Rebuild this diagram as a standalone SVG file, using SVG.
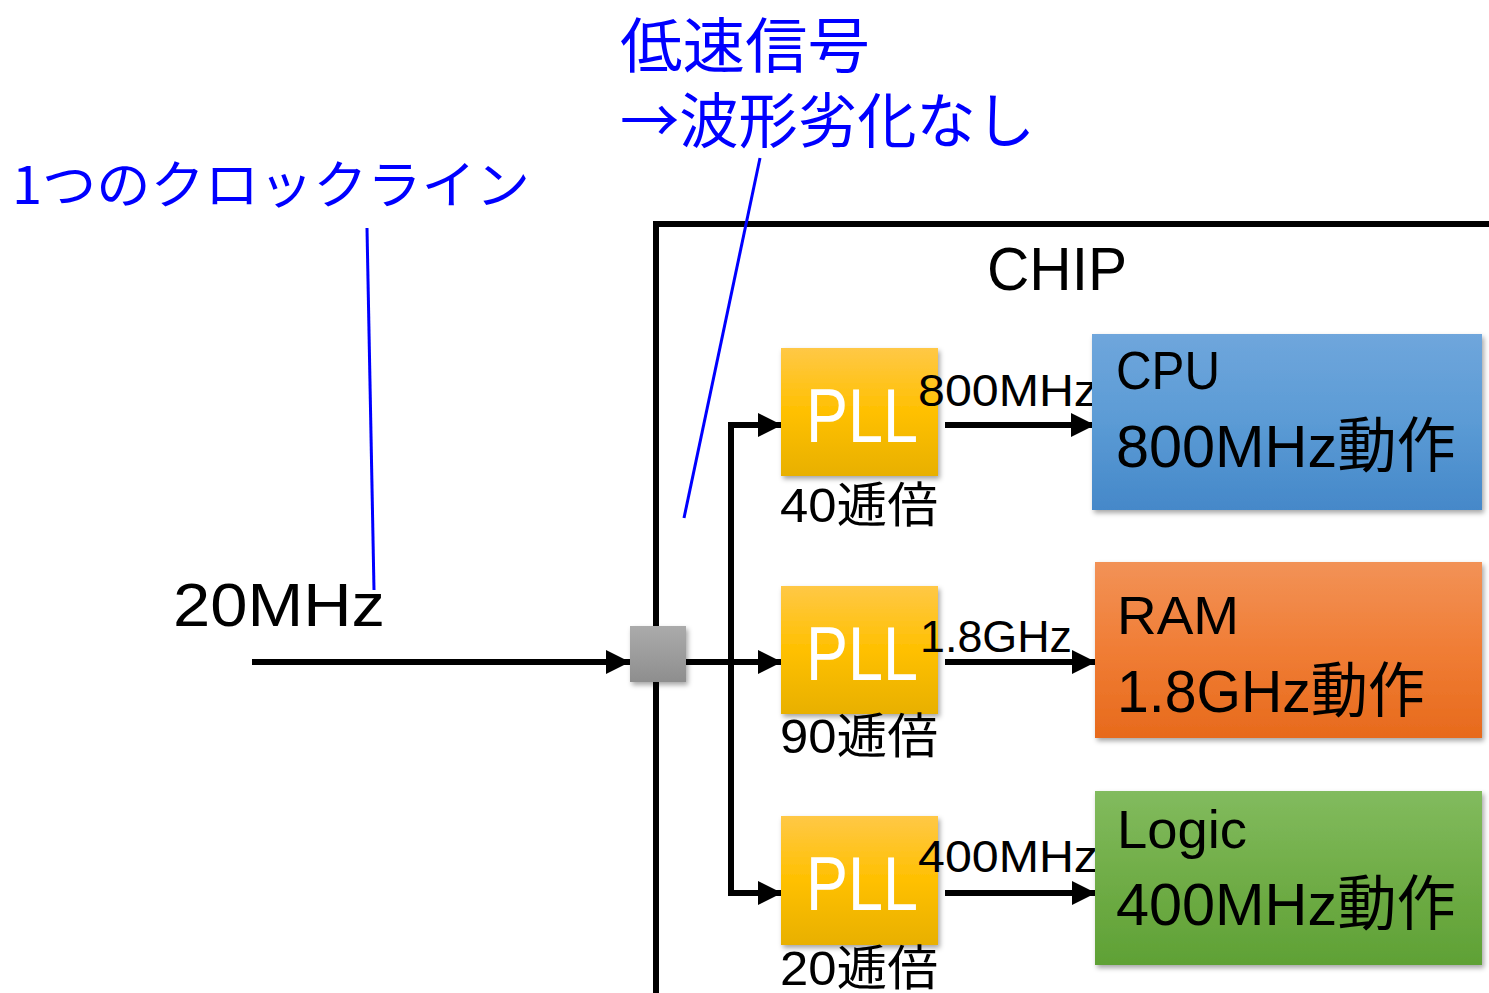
<svg xmlns="http://www.w3.org/2000/svg" width="1489" height="993" viewBox="0 0 1489 993">
<defs>
<style>
.lat{font-family:"Liberation Sans","Noto Sans CJK JP",sans-serif;fill:#000}
.blue{font-family:"Noto Sans CJK JP",sans-serif;fill:#0000ff}
.pll{font-family:"Liberation Sans",sans-serif;fill:#fff;font-size:76px}
.wire{stroke:#000;stroke-width:6;fill:none}
.note{stroke:#0000ff;stroke-width:3;fill:none}
</style>
<linearGradient id="gY" x1="0" y1="0" x2="0" y2="1"><stop offset="0" stop-color="#ffc846"/><stop offset="0.5" stop-color="#ffc000"/><stop offset="1" stop-color="#e8b000"/></linearGradient>
<linearGradient id="gG" x1="0" y1="0" x2="0" y2="1"><stop offset="0" stop-color="#ababab"/><stop offset="1" stop-color="#8e8e8e"/></linearGradient>
<linearGradient id="gB" x1="0" y1="0" x2="0" y2="1"><stop offset="0" stop-color="#6fa6dc"/><stop offset="0.5" stop-color="#5b9bd5"/><stop offset="1" stop-color="#4588c9"/></linearGradient>
<linearGradient id="gO" x1="0" y1="0" x2="0" y2="1"><stop offset="0" stop-color="#f29257"/><stop offset="0.5" stop-color="#f07d35"/><stop offset="1" stop-color="#e76a1c"/></linearGradient>
<linearGradient id="gL" x1="0" y1="0" x2="0" y2="1"><stop offset="0" stop-color="#82bb5e"/><stop offset="0.5" stop-color="#70ad47"/><stop offset="1" stop-color="#5fa135"/></linearGradient>
<filter id="sh" x="-10%" y="-10%" width="130%" height="130%"><feDropShadow dx="2" dy="3" stdDeviation="2.5" flood-color="#000" flood-opacity="0.35"/></filter>
<marker id="ah" markerUnits="userSpaceOnUse" markerWidth="26" markerHeight="26" refX="24" refY="13" orient="auto"><path d="M0,1 L24,13 L0,25 Z" fill="#000"/></marker>
</defs>

<g id="chip">
<path class="wire" d="M656,993 V224 H1489"/>
<text class="lat" x="987" y="290" font-size="62" textLength="140" lengthAdjust="spacingAndGlyphs">CHIP</text>
</g>

<g id="notes">
<text class="blue" x="12" y="204" font-size="52" textLength="518" lengthAdjust="spacingAndGlyphs">1つのクロックライン</text>
<text class="blue" x="620" y="68" font-size="60" textLength="250" lengthAdjust="spacingAndGlyphs">低速信号</text>
<text class="blue" x="620" y="143" font-size="60" textLength="415" lengthAdjust="spacingAndGlyphs">→波形劣化なし</text>
<line class="note" x1="367" y1="228" x2="374" y2="590"/>
<line class="note" x1="760" y1="158" x2="684" y2="518"/>
</g>

<g id="input">
<text class="lat" x="173" y="626" font-size="62" textLength="212" lengthAdjust="spacingAndGlyphs">20MHz</text>
</g>

<g id="connectors">
<line class="wire" x1="252" y1="662" x2="630" y2="662" marker-end="url(#ah)"/>
<line class="wire" x1="686" y1="662" x2="782" y2="662" marker-end="url(#ah)"/>
<path class="wire" d="M782,425 H731 V893 H782" marker-end="url(#ah)"/>
<path class="wire" d="M731,425 H782" marker-end="url(#ah)"/>
<line class="wire" x1="945" y1="425" x2="1095" y2="425" marker-end="url(#ah)"/>
<line class="wire" x1="945" y1="662" x2="1096" y2="662" marker-end="url(#ah)"/>
<line class="wire" x1="945" y1="893" x2="1096" y2="893" marker-end="url(#ah)"/>
</g>

<g id="splitter">
<rect x="630" y="626" width="56" height="56" fill="url(#gG)" filter="url(#sh)"/>
</g>

<g id="pll1">
<rect x="781" y="348" width="157" height="128" fill="url(#gY)" filter="url(#sh)"/>
<text class="pll" x="806" y="442" textLength="112" lengthAdjust="spacingAndGlyphs">PLL</text>
<text class="lat" x="780" y="522" font-size="48" textLength="158" lengthAdjust="spacingAndGlyphs">40逓倍</text>
<text class="lat" x="918" y="406" font-size="45" textLength="180" lengthAdjust="spacingAndGlyphs">800MHz</text>
</g>
<g id="pll2">
<rect x="781" y="586" width="157" height="128" fill="url(#gY)" filter="url(#sh)"/>
<text class="pll" x="806" y="680" textLength="112" lengthAdjust="spacingAndGlyphs">PLL</text>
<text class="lat" x="780" y="753" font-size="48" textLength="158" lengthAdjust="spacingAndGlyphs">90逓倍</text>
<text class="lat" x="920" y="652" font-size="45" textLength="152" lengthAdjust="spacingAndGlyphs">1.8GHz</text>
</g>
<g id="pll3">
<rect x="781" y="816" width="157" height="129" fill="url(#gY)" filter="url(#sh)"/>
<text class="pll" x="806" y="910" textLength="112" lengthAdjust="spacingAndGlyphs">PLL</text>
<text class="lat" x="780" y="985" font-size="48" textLength="158" lengthAdjust="spacingAndGlyphs">20逓倍</text>
<text class="lat" x="918" y="872" font-size="45" textLength="180" lengthAdjust="spacingAndGlyphs">400MHz</text>
</g>

<g id="cpu">
<rect x="1092" y="334" width="390" height="176" fill="url(#gB)" filter="url(#sh)"/>
<text class="lat" x="1116" y="389" font-size="53" textLength="104" lengthAdjust="spacingAndGlyphs">CPU</text>
<text class="lat" x="1116" y="467" font-size="60" textLength="340" lengthAdjust="spacingAndGlyphs">800MHz動作</text>
</g>
<g id="ram">
<rect x="1095" y="562" width="387" height="176" fill="url(#gO)" filter="url(#sh)"/>
<text class="lat" x="1117" y="634" font-size="53" textLength="122" lengthAdjust="spacingAndGlyphs">RAM</text>
<text class="lat" x="1117" y="712" font-size="60" textLength="308" lengthAdjust="spacingAndGlyphs">1.8GHz動作</text>
</g>
<g id="logic">
<rect x="1095" y="791" width="387" height="174" fill="url(#gL)" filter="url(#sh)"/>
<text class="lat" x="1117" y="848" font-size="53" textLength="130" lengthAdjust="spacingAndGlyphs">Logic</text>
<text class="lat" x="1116" y="925" font-size="60" textLength="340" lengthAdjust="spacingAndGlyphs">400MHz動作</text>
</g>
</svg>
